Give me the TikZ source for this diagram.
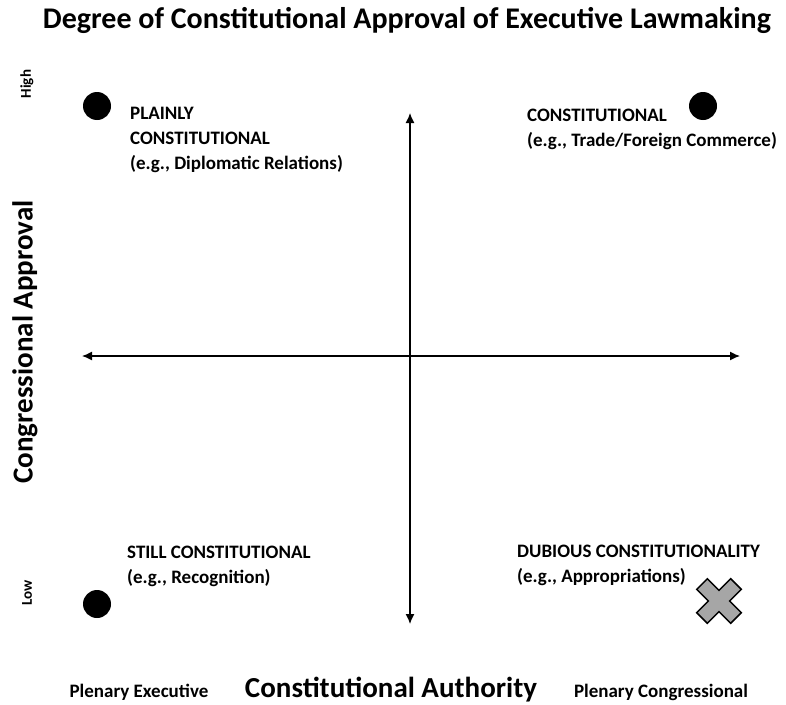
\documentclass[tikz,border=0pt]{standalone}
\usepackage{fontspec}
\setmainfont{Carlito}
\usepackage{tikz}
\usetikzlibrary{arrows.meta}
\tikzstyle{axis} = [draw, line width=1.3pt, {Latex[length=10pt,width=9pt]}-{Latex[length=10pt,width=9pt]}]
\tikzstyle{dot} = [circle, fill=black, minimum size=28pt, inner sep=0pt]
\tikzstyle{note} = [font=\fontsize{19}{25}\selectfont\bfseries, align=left, inner sep=0pt, anchor=north west]
\tikzstyle{tick} = [font=\fontsize{15}{16}\selectfont\bfseries, rotate=90, inner sep=0pt]
\tikzstyle{bigtitle} = [font=\fontsize{30}{34}\selectfont\bfseries, inner sep=0pt]
\tikzstyle{axisname} = [font=\fontsize{29}{34}\selectfont\bfseries, inner sep=0pt]
\tikzstyle{endlabel} = [font=\fontsize{19}{22}\selectfont\bfseries, inner sep=0pt, anchor=base]

\begin{document}
\begin{tikzpicture}[x=1pt, y=-1pt]
    \useasboundingbox (0,0) rectangle (786,704);
    % title and axis names
    \node[bigtitle] (title) at (407,20) {Degree of Constitutional Approval of Executive Lawmaking};
    \node[axisname, rotate=90] (yname) at (25,342) {Congressional Approval};
    \node[axisname, anchor=base] (xname) at (391,697) {Constitutional Authority};
    \node[endlabel] (plenexec) at (139,697) {Plenary Executive};
    \node[endlabel] (plencong) at (661,697) {Plenary Congressional};
    \node[tick] (high) at (27,84) {High};
    \node[tick] (low) at (27,593) {Low};
    % axes
    \coordinate (top) at (410,113);
    \coordinate (bottom) at (410,624);
    \coordinate (left) at (82,356);
    \coordinate (right) at (740,356);
    \path [axis] (bottom) -- (top);
    \path [axis] (left) -- (right);
    % quadrants
    \node[dot] (plainly) at (97,106) {};
    \node[note] (plainlytext) at (130,107) {PLAINLY\\CONSTITUTIONAL\\(e.g., Diplomatic Relations)};
    \node[dot] (trade) at (703,106) {};
    \node[note] (tradetext) at (527,109) {CONSTITUTIONAL\\(e.g., Trade/Foreign Commerce)};
    \node[dot] (recog) at (97,604) {};
    \node[note] (recogtext) at (127,546) {STILL CONSTITUTIONAL\\(e.g., Recognition)};
    \node[note] (approtext) at (517,545) {DUBIOUS CONSTITUTIONALITY\\(e.g., Appropriations)};
    \draw[fill=gray!70, line width=1.5pt, line join=miter, rotate around={45:(719,601)}, shift={(719,601)}]
        (-7.5,-24) -- (7.5,-24) -- (7.5,-7.5) -- (24,-7.5) -- (24,7.5) -- (7.5,7.5) -- (7.5,24)
        -- (-7.5,24) -- (-7.5,7.5) -- (-24,7.5) -- (-24,-7.5) -- (-7.5,-7.5) -- cycle;
\end{tikzpicture}
\end{document}
